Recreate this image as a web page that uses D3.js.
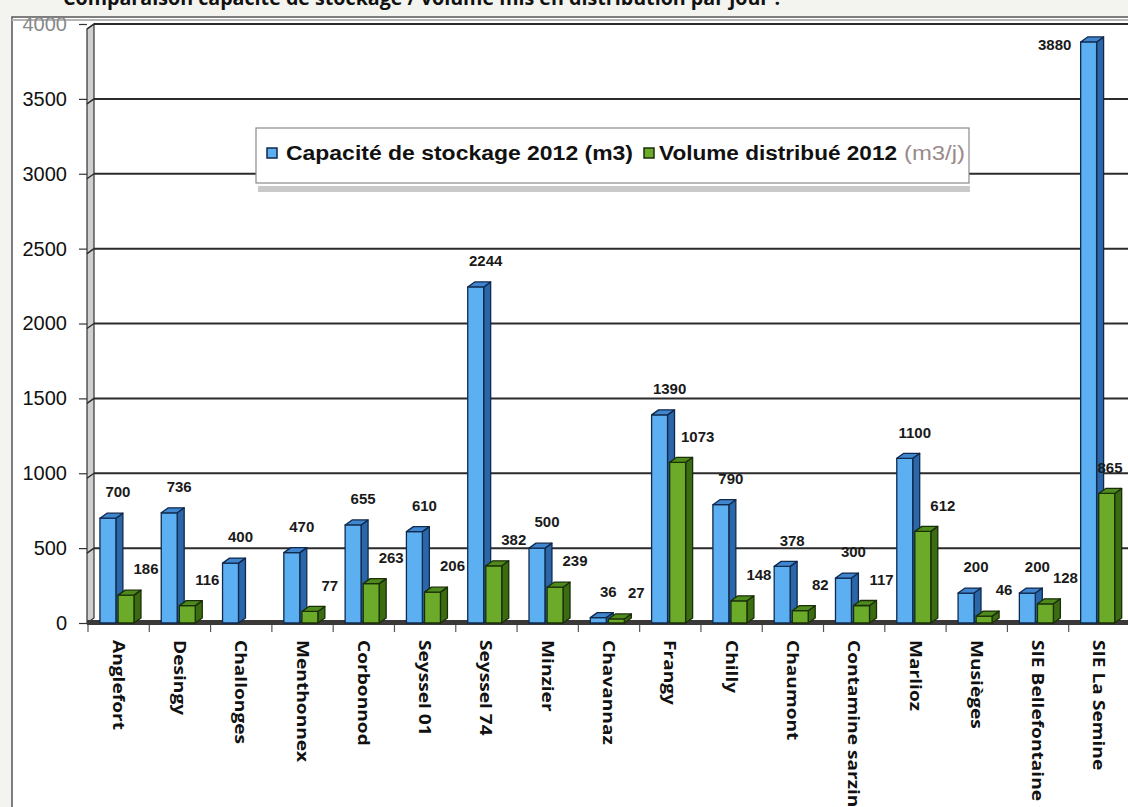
<!DOCTYPE html>
<html>
<head>
<meta charset="utf-8">
<script src="https://cdn.jsdelivr.net/npm/d3@7/dist/d3.min.js"></script>
<style>
  html, body { margin: 0; padding: 0; background: #f3f4ef; }
  svg { display: block; }
</style>
</head>
<body>
<script>
// ---- data ----
const titleText = "Comparaison capacité de stockage / volume mis en distribution par jour :";
const categories = ["Anglefort", "Desingy", "Challonges", "Menthonnex", "Corbonnod", "Seyssel 01",
  "Seyssel 74", "Minzier", "Chavannaz", "Frangy", "Chilly", "Chaumont", "Contamine sarzin",
  "Marlioz", "Musièges", "SIE Bellefontaine", "SIE La Semine"];
const capacite = [700, 736, 400, 470, 655, 610, 2244, 500, 36, 1390, 790, 378, 300, 1100, 200, 200, 3880];
const volume = [186, 116, null, 77, 263, 206, 382, 239, 27, 1073, 148, 82, 117, 612, 46, 128, 865];
const yTicks = [0, 500, 1000, 1500, 2000, 2500, 3000, 3500, 4000];
const legendCapacite = "Capacité de stockage 2012 (m3)";
const legendVolume = "Volume distribué 2012";
const legendVolumeUnit = "(m3/j)";

// ---- layout ----
const W = 1128, H = 807;
const svg = d3.select("body").append("svg").attr("width", W).attr("height", H);

svg.append("rect").attr("x", 0).attr("y", 0).attr("width", W).attr("height", H).attr("fill", "#f3f4ef");

// title (cut at top as in the reference)
svg.append("text").attr("x", 63).attr("y", 5)
  .attr("font-family", "'Open Sans', 'Noto Sans', sans-serif").attr("font-weight", 700)
  .attr("font-size", 20).attr("fill", "#111")
  .attr("textLength", 717).attr("lengthAdjust", "spacingAndGlyphs")
  .text(titleText);

// chart frame
svg.append("rect").attr("x", 12).attr("y", 17).attr("width", 1140).attr("height", 820)
  .attr("fill", "#fff").attr("stroke", "#555").attr("stroke-width", 1.5);
svg.append("line").attr("x1", 12).attr("x2", W).attr("y1", 20).attr("y2", 20)
  .attr("stroke", "#b5b5b5").attr("stroke-width", 2);

const x = d3.scaleBand().domain(categories).range([88, 1130]).padding(0);
const y = d3.scaleLinear().domain([0, 4000]).range([623, 24]);
const bw = x.bandwidth();
const y0 = y(0);
const depthX = 7, depthY = 5;

// back wall left side
svg.append("polygon")
  .attr("points", [[87, y(4000) + depthY], [87 + depthX, y(4000)], [87 + depthX, y0 - depthY], [87, y0]].map(p => p.join(",")).join(" "))
  .attr("fill", "#cfcfcf").attr("stroke", "#333").attr("stroke-width", 1.2);

// gridlines
const grid = svg.append("g");
yTicks.filter(v => v > 0).forEach(v => {
  grid.append("line").attr("x1", 87 + depthX).attr("x2", W).attr("y1", y(v)).attr("y2", y(v))
    .attr("stroke", "#2b2b2b").attr("stroke-width", 2);
  grid.append("line").attr("x1", 87).attr("x2", 87 + depthX).attr("y1", y(v) + depthY).attr("y2", y(v))
    .attr("stroke", "#2b2b2b").attr("stroke-width", 1.5);
});

// floor
svg.append("rect").attr("x", 87).attr("y", y0 - 3).attr("width", W - 87).attr("height", 5)
  .attr("fill", "#3b3838");

// y axis
const yAxis = svg.append("g").attr("transform", "translate(87,0)")
  .call(d3.axisLeft(y).tickValues(yTicks).tickSize(8).tickPadding(12).tickFormat(d3.format("d")));
yAxis.select(".domain").remove();
yAxis.selectAll(".tick line").attr("stroke", "#333").attr("stroke-width", 1.2);
yAxis.selectAll(".tick text")
  .attr("font-family", "'Liberation Sans', Arial, sans-serif").attr("font-size", 20).attr("fill", "#111");
yAxis.selectAll(".tick").filter(d => d === 4000).select("text").attr("fill", "#888");

// x ticks at category boundaries
const xTickPos = categories.map(c => x(c)).concat([x(categories[categories.length - 1]) + bw]);
svg.append("g").selectAll("line").data(xTickPos).join("line")
  .attr("x1", d => d).attr("x2", d => d).attr("y1", y0 + 2).attr("y2", y0 + 9)
  .attr("stroke", "#555").attr("stroke-width", 1.2);

// x labels
const xAxis = svg.append("g").attr("transform", `translate(0,${y0 + 17})`)
  .call(d3.axisBottom(x).tickSize(0).tickPadding(0));
xAxis.select(".domain").remove();
xAxis.selectAll(".tick text")
  .attr("x", 0).attr("y", 0).attr("dy", "0.36em")
  .attr("text-anchor", "start")
  .attr("transform", "rotate(90) scale(1.16,1)")
  .attr("font-family", "'Open Sans', 'Noto Sans', sans-serif").attr("font-weight", 700)
  .attr("font-size", 16.5).attr("fill", "#111");

// 3D bars
const series = [
  { values: capacite, offset: 0.195, labelDx: 10, front: "#5cb0f2", side: "#2a66a8", top: "#3f86cf", stroke: "#10294d" },
  { values: volume, offset: 0.49, labelDx: 20, front: "#6cab2a", side: "#3c6c12", top: "#4e8a1c", stroke: "#1a2e08" }
];
const barW = bw * 0.26;
const barsG = svg.append("g");
const labelsG = svg.append("g");

categories.forEach((c, i) => {
  series.forEach(s => {
    const v = s.values[i];
    if (v == null) return;
    const x0 = x(c) + bw * s.offset;
    const yt = y(v);
    const g = barsG.append("g").attr("stroke", s.stroke).attr("stroke-width", 1.3).attr("stroke-linejoin", "round");
    g.append("polygon")
      .attr("points", [[x0 + barW, yt], [x0 + barW + depthX, yt - depthY], [x0 + barW + depthX, y0 - depthY], [x0 + barW, y0]].map(p => p.join(",")).join(" "))
      .attr("fill", s.side);
    g.append("rect").attr("x", x0).attr("y", yt).attr("width", barW).attr("height", Math.max(0, y0 - yt))
      .attr("fill", s.front);
    g.append("polygon")
      .attr("points", [[x0, yt], [x0 + depthX, yt - depthY], [x0 + barW + depthX, yt - depthY], [x0 + barW, yt]].map(p => p.join(",")).join(" "))
      .attr("fill", s.top);

    // value label: up-right of the bar, or beside it when it would hit the top of the plot
    let lx = x0 + barW / 2 + s.labelDx;
    let ly = yt - 26;
    if (ly < y(4000) + 10) { lx = x0 - 26; ly = yt + 3; }
    lx = Math.min(lx, W - 18);
    labelsG.append("text").attr("x", lx).attr("y", ly).attr("dy", "0.35em")
      .attr("text-anchor", "middle")
      .attr("font-family", "'Liberation Sans', Arial, sans-serif").attr("font-weight", 700)
      .attr("font-size", 15).attr("fill", "#1a1a1a")
      .text(v);
  });
});

// legend
const lg = svg.append("g");
lg.append("rect").attr("x", 258).attr("y", 186).attr("width", 712).attr("height", 6).attr("fill", "#c9c9c9");
lg.append("rect").attr("x", 256).attr("y", 128).attr("width", 713).attr("height", 55)
  .attr("fill", "#fff").attr("stroke", "#8a8a8a").attr("stroke-width", 1.2);
lg.append("rect").attr("x", 267).attr("y", 148).attr("width", 10).attr("height", 10)
  .attr("fill", "#5cb0f2").attr("stroke", "#10294d").attr("stroke-width", 1.5);
lg.append("text").attr("x", 286).attr("y", 160)
  .attr("font-family", "'Liberation Sans', Arial, sans-serif").attr("font-weight", 700).attr("font-size", 20)
  .attr("fill", "#111").attr("textLength", 347).attr("lengthAdjust", "spacingAndGlyphs")
  .text(legendCapacite);
lg.append("rect").attr("x", 644).attr("y", 148).attr("width", 10).attr("height", 10)
  .attr("fill", "#6cab2a").attr("stroke", "#1a2e08").attr("stroke-width", 1.5);
lg.append("text").attr("x", 659).attr("y", 160)
  .attr("font-family", "'Liberation Sans', Arial, sans-serif").attr("font-weight", 700).attr("font-size", 20)
  .attr("fill", "#111").attr("textLength", 238).attr("lengthAdjust", "spacingAndGlyphs")
  .text(legendVolume);
lg.append("text").attr("x", 904).attr("y", 160)
  .attr("font-family", "'Liberation Sans', Arial, sans-serif").attr("font-size", 20)
  .attr("fill", "#9a8a8a").attr("textLength", 61).attr("lengthAdjust", "spacingAndGlyphs")
  .text(legendVolumeUnit);
</script>
</body>
</html>
